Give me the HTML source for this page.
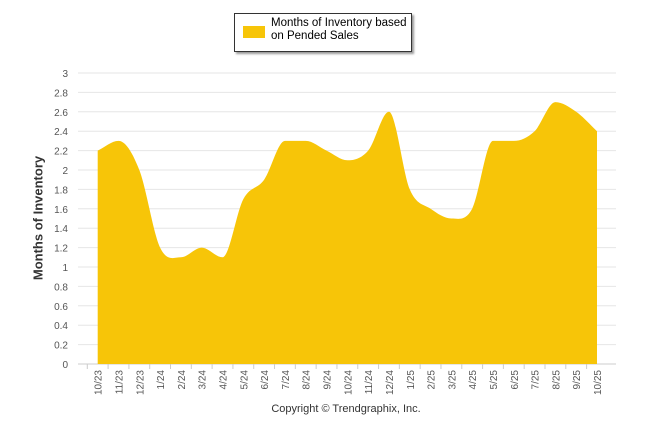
<!DOCTYPE html>
<html><head><meta charset="utf-8"><style>
body{margin:0;background:#fff;font-family:"Liberation Sans",Arial,sans-serif}
svg{display:block}
</style></head><body>
<svg id="c" width="646" height="434"></svg>
<script>
const categories=["10/23","11/23","12/23","1/24","2/24","3/24","4/24","5/24","6/24","7/24","8/24","9/24","10/24","11/24","12/24","1/25","2/25","3/25","4/25","5/25","6/25","7/25","8/25","9/25","10/25"];
const values=[2.2,2.3,2.0,1.2,1.1,1.2,1.1,1.7,1.9,2.3,2.3,2.2,2.1,2.2,2.6,1.8,1.6,1.5,1.6,2.3,2.3,2.4,2.7,2.6,2.4];
const yTicks=[0,0.2,0.4,0.6,0.8,1,1.2,1.4,1.6,1.8,2,2.2,2.4,2.6,2.8,3];
const NS="http://www.w3.org/2000/svg";
const svg=document.getElementById('c');
const x0=97.7,dx=(597-97.7)/(categories.length-1);
const X=i=>x0+i*dx;
const Y=v=>364-v*(364-73)/3;
function mk(t,a,p){const e=document.createElementNS(NS,t);for(const k in a)e.setAttribute(k,a[k]);(p||svg).appendChild(e);return e;}
yTicks.forEach(t=>{
 const g=mk('line',{x1:78,x2:616,y1:Y(t),y2:Y(t),stroke:t===0?'#ccc':'#e6e6e6','stroke-width':1});
 
 
 const l=mk('text',{x:68,y:Y(t)+4,'text-anchor':'end','font-size':10,fill:'#555'});
 l.textContent=t;
 
 
});
// smooth path (monotone cubic)
const n=values.length,pts=values.map((v,i)=>[X(i),Y(v)]);
const m=[];const d=[];
for(let i=0;i<n-1;i++)d.push((pts[i+1][1]-pts[i][1])/dx);
for(let i=0;i<n;i++){if(i===0)m.push(d[0]);else if(i===n-1)m.push(d[n-2]);else m.push(d[i-1]*d[i]<=0?0:(d[i-1]+d[i])/2);}
let p=`M${pts[0][0]},364 L${pts[0][0]},${pts[0][1]}`;
for(let i=0;i<n-1;i++){p+=` C${pts[i][0]+dx/3},${pts[i][1]+m[i]*dx/3} ${pts[i+1][0]-dx/3},${pts[i+1][1]-m[i+1]*dx/3} ${pts[i+1][0]},${pts[i+1][1]}`;}
p+=` L${pts[n-1][0]},364 Z`;
const area=mk('path',{d:p,fill:'#F7C508'});


categories.forEach((c,i)=>{
 const t=mk('text',{transform:`translate(${X(i)+4},370) rotate(-90)`,'text-anchor':'end','font-size':10,fill:'#555'});
 t.textContent=c;
 
 
 const tk=mk('line',{x1:X(i)-dx/2,x2:X(i)-dx/2,y1:364,y2:369,stroke:'#ccc'});
 
 
});
</script>
<div style="position:absolute;left:38px;top:218px;transform:translate(-50%,-50%) rotate(-90deg);font-size:13px;font-weight:bold;color:#333;white-space:nowrap">Months of Inventory</div>
<div style="position:absolute;left:234px;top:13px;width:176px;height:37px;border:1px solid #333;box-shadow:2px 2px 2px #999;background:#fff">
 <div style="position:absolute;left:8px;top:12px;width:22px;height:12px;background:#F7C508"></div>
 <div style="position:absolute;left:36px;top:3px;font-size:11.5px;line-height:13px;color:#000">Months of Inventory based<br>on Pended Sales</div>
</div>
<div style="position:absolute;left:0;width:692px;top:403px;text-align:center;font-size:11px;color:#333">Copyright © Trendgraphix, Inc.</div>
</body></html>
